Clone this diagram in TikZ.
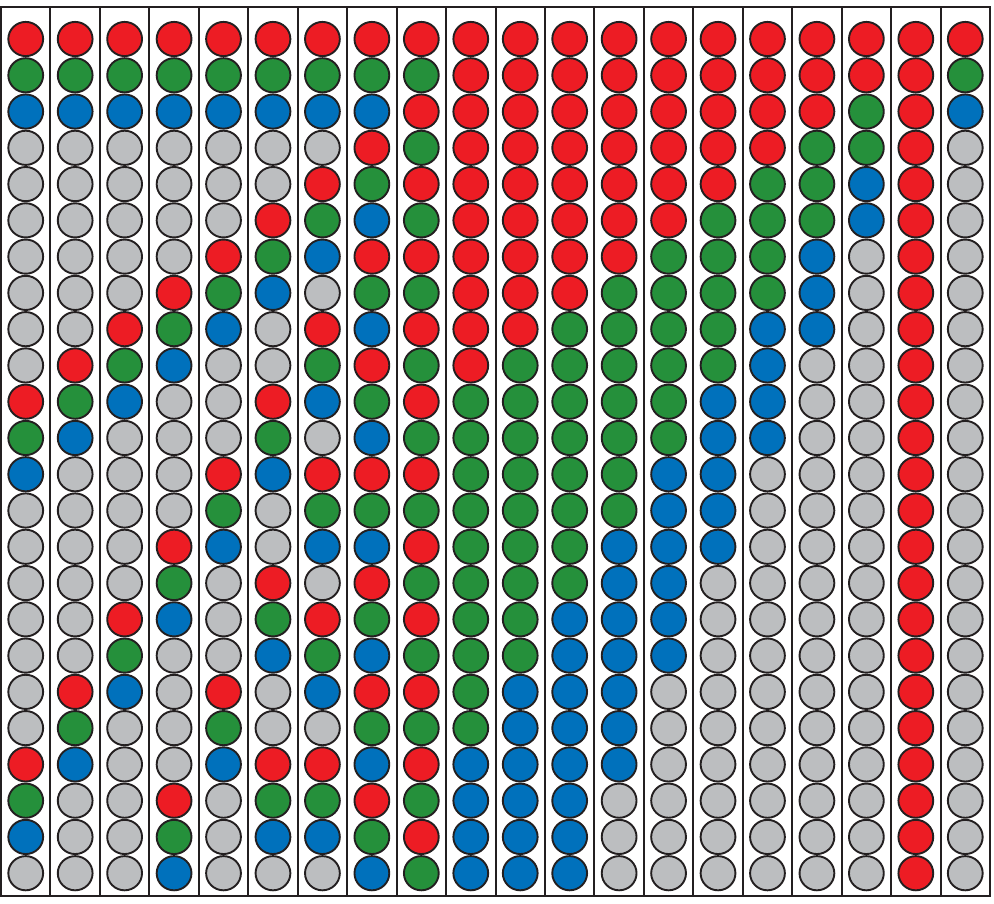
\documentclass[tikz,border=0pt]{standalone}
\usetikzlibrary{shapes.geometric}
\definecolor{cR}{HTML}{ED1C24}
\definecolor{cG}{HTML}{25903B}
\definecolor{cB}{HTML}{0071BC}
\definecolor{cW}{HTML}{BCBEC0}
\definecolor{ink}{HTML}{231F20}
\tikzset{
  bead/.style={ellipse, draw=ink, line width=1.9pt, minimum width=34.8pt, minimum height=34.2pt, inner sep=0pt},
  frameline/.style={draw=ink, line width=2.2pt},
  sepline/.style={draw=ink, line width=2pt}
}
\begin{document}
\begin{tikzpicture}[x=1pt,y=-1pt]
\useasboundingbox (0,0) rectangle (994,903);
\draw[frameline] (1,7) rectangle (990,896);
\foreach \k in {1,...,19} {
  \coordinate (t\k) at ({1+49.45*\k},7);
  \coordinate (u\k) at ({1+49.45*\k},896);
  \draw[sepline] (t\k) -- (u\k);
}
\foreach \lst [count=\c] in {
 {R,G,B,W,W,W,W,W,W,W,R,G,B,W,W,W,W,W,W,W,R,G,B,W},
 {R,G,B,W,W,W,W,W,W,R,G,B,W,W,W,W,W,W,R,G,B,W,W,W},
 {R,G,B,W,W,W,W,W,R,G,B,W,W,W,W,W,R,G,B,W,W,W,W,W},
 {R,G,B,W,W,W,W,R,G,B,W,W,W,W,R,G,B,W,W,W,W,R,G,B},
 {R,G,B,W,W,W,R,G,B,W,W,W,R,G,B,W,W,W,R,G,B,W,W,W},
 {R,G,B,W,W,R,G,B,W,W,R,G,B,W,W,R,G,B,W,W,R,G,B,W},
 {R,G,B,W,R,G,B,W,R,G,B,W,R,G,B,W,R,G,B,W,R,G,B,W},
 {R,G,B,R,G,B,R,G,B,R,G,B,R,G,B,R,G,B,R,G,B,R,G,B},
 {R,G,R,G,R,G,R,G,R,G,R,G,R,G,R,G,R,G,R,G,R,G,R,G},
 {R,R,R,R,R,R,R,R,R,R,G,G,G,G,G,G,G,G,G,G,B,B,B,B},
 {R,R,R,R,R,R,R,R,R,G,G,G,G,G,G,G,G,G,B,B,B,B,B,B},
 {R,R,R,R,R,R,R,R,G,G,G,G,G,G,G,G,B,B,B,B,B,B,B,B},
 {R,R,R,R,R,R,R,G,G,G,G,G,G,G,B,B,B,B,B,B,B,W,W,W},
 {R,R,R,R,R,R,G,G,G,G,G,G,B,B,B,B,B,B,W,W,W,W,W,W},
 {R,R,R,R,R,G,G,G,G,G,B,B,B,B,B,W,W,W,W,W,W,W,W,W},
 {R,R,R,R,G,G,G,G,B,B,B,B,W,W,W,W,W,W,W,W,W,W,W,W},
 {R,R,R,G,G,G,B,B,B,W,W,W,W,W,W,W,W,W,W,W,W,W,W,W},
 {R,R,G,G,B,B,W,W,W,W,W,W,W,W,W,W,W,W,W,W,W,W,W,W},
 {R,R,R,R,R,R,R,R,R,R,R,R,R,R,R,R,R,R,R,R,R,R,R,R},
 {R,G,B,W,W,W,W,W,W,W,W,W,W,W,W,W,W,W,W,W,W,W,W,W}} {
  \foreach \col [count=\r] in \lst {
    \node[bead, fill=c\col] (b-\c-\r) at ({1+49.45*(\c-0.5)},{39+36.27*(\r-1)}) {};
  }
}
\end{tikzpicture}
\end{document}
